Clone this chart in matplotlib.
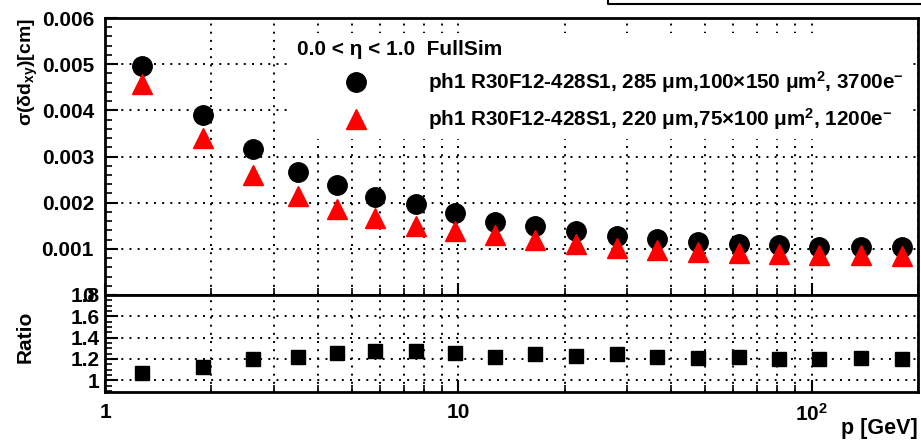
import matplotlib
matplotlib.use("Agg")
import matplotlib.pyplot as plt
import matplotlib.ticker as ticker
from matplotlib.lines import Line2D

# momentum bin centres [GeV]
p_gev = [1.27, 1.89, 2.63, 3.51, 4.53, 5.81, 7.60, 9.81, 12.7, 16.5,
         21.5, 28.1, 36.5, 47.8, 62.1, 80.6, 105, 138, 180]

# sigma(delta d_xy) [cm]
sigma_285um = [0.00497, 0.00389, 0.00316, 0.00267, 0.00239, 0.00212, 0.00197,
               0.00178, 0.00159, 0.00149, 0.00138, 0.00128, 0.00121, 0.00115,
               0.00110, 0.00109, 0.00105, 0.00104, 0.00103]
sigma_220um = [0.00456, 0.00340, 0.00261, 0.00214, 0.00186, 0.00167, 0.00150,
               0.00138, 0.00129, 0.00119, 0.00111, 0.00102, 0.00098, 0.00093,
               0.00090, 0.00089, 0.00086, 0.00086, 0.00085]
ratio = [1.07, 1.12, 1.20, 1.22, 1.26, 1.27, 1.27, 1.26, 1.22, 1.25,
         1.23, 1.25, 1.22, 1.21, 1.22, 1.20, 1.20, 1.21, 1.20]

label_285 = "ph1 R30F12-428S1, 285 μm,100×150 μm$^{2}$, 3700e$^{-}$"
label_220 = "ph1 R30F12-428S1, 220 μm,75×100 μm$^{2}$, 1200e$^{-}$"
header = "0.0 < η < 1.0  FullSim"

top_yticks = [0, 0.001, 0.002, 0.003, 0.004, 0.005, 0.006]
top_ylabels = ["0", "0.001", "0.002", "0.003", "0.004", "0.005", "0.006"]
ratio_yticks = [1.0, 1.2, 1.4, 1.6, 1.8]
ratio_ylabels = ["1", "1.2", "1.4", "1.6", "1.8"]
xticks = [1, 10, 100]
xlabels = ["1", "10", "$10^{2}$"]

plt.rcParams["font.family"] = ["Liberation Sans", "DejaVu Sans"]
plt.rcParams["font.weight"] = "bold"
plt.rcParams["axes.labelweight"] = "bold"
plt.rcParams["mathtext.fontset"] = "custom"
plt.rcParams["mathtext.rm"] = "Liberation Sans:bold"
plt.rcParams["mathtext.it"] = "Liberation Sans:bold"
plt.rcParams["mathtext.bf"] = "Liberation Sans:bold"
plt.rcParams["mathtext.default"] = "rm"

W, H = 921, 441
fig = plt.figure(figsize=(W / 100, H / 100), dpi=100)
ax1 = fig.add_axes([105 / W, 1 - 295 / H, 813 / W, 277 / H])
ax2 = fig.add_axes([105 / W, 1 - 392 / H, 813 / W, 97 / H])

GRID = dict(color="black", linestyle=(0, (1, 3.2)), linewidth=1.4)

for ax in (ax1, ax2):
    ax.set_xscale("log")
    ax.set_xlim(1, 200)
    ax.xaxis.set_major_locator(ticker.FixedLocator(xticks))
    ax.xaxis.set_minor_locator(ticker.LogLocator(base=10, subs=range(2, 10)))
    ax.xaxis.set_minor_formatter(ticker.NullFormatter())
    ax.grid(True, which="both", axis="x", **GRID)
    ax.grid(True, which="major", axis="y", **GRID)
    ax.tick_params(which="major", direction="in", length=9, width=1.5, labelsize=14)
    ax.tick_params(which="minor", direction="in", length=5, width=1.2)
    for s in ax.spines.values():
        s.set_linewidth(2)
    ax.set_axisbelow(True)

# top panel
ax1.plot(p_gev, sigma_285um, "o", color="black", markersize=14, label=label_285)
ax1.plot(p_gev, sigma_220um, "^", color="red", markersize=14, label=label_220)
ax1.set_ylim(0, 0.006)
ax1.yaxis.set_major_locator(ticker.FixedLocator(top_yticks))
ax1.yaxis.set_major_formatter(ticker.FixedFormatter(top_ylabels))
ax1.yaxis.set_minor_locator(ticker.MultipleLocator(0.0002))
ax1.tick_params(axis="x", labelbottom=False)
ax1.tick_params(axis="y", labelsize=15, pad=8)
ax1.set_ylabel("σ(δd$_{xy}$)[cm]", fontsize=14, loc="top")
ax1.yaxis.set_label_coords(-0.08, 1.0)

leg = ax1.legend(loc="upper left", bbox_to_anchor=(0.214, 0.985), fontsize=14.9,
                 title=header, title_fontproperties={"size": 15, "weight": "bold"},
                 alignment="left", frameon=True, facecolor="white", edgecolor="none",
                 framealpha=1.0, fancybox=False, handlelength=5.7, handletextpad=0.64,
                 labelspacing=0.52, borderpad=0.35, markerscale=1.0)

# ratio panel
ax2.plot(p_gev, ratio, "s", color="black", markersize=10)
ax2.set_ylim(0.89, 1.8)
ax2.yaxis.set_major_locator(ticker.FixedLocator(ratio_yticks))
ax2.yaxis.set_major_formatter(ticker.FixedFormatter(ratio_ylabels))
ax2.yaxis.set_minor_locator(ticker.MultipleLocator(0.05))
ax2.xaxis.set_major_formatter(ticker.FixedFormatter(xlabels))
ax2.tick_params(axis="x", pad=8, labelsize=15)
ax2.tick_params(axis="y", labelsize=15, pad=4)
ax2.set_ylabel("Ratio", fontsize=15)
ax2.yaxis.set_label_coords(-0.086, 0.57)
ax2.set_xlabel("p [GeV]", fontsize=15.5, loc="right")
ax2.xaxis.set_label_coords(1.0, -0.27)

# edge of the cut-off title box at the top right
fig.add_artist(Line2D([608 / W, 608 / W, 1.0], [1.0, 1 - 4 / H, 1 - 4 / H],
                      transform=fig.transFigure, color="black", linewidth=1.5))

fig.savefig("out.png", dpi=100)
